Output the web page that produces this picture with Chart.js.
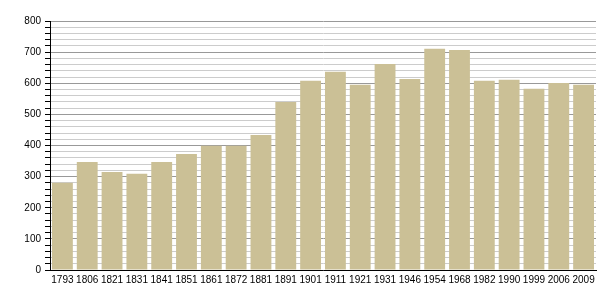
<!DOCTYPE html>
<html lang="fr">
<head>
  <meta charset="UTF-8">
  <title>Population</title>
  <script src="https://cdn.jsdelivr.net/npm/chart.js"></script>
  <style>
    html, body { margin: 0; padding: 0; background: #fff; }
  </style>
</head>
<body>
  <div style="width: 605px; height: 300px;">
    <canvas id="popChart"></canvas>
  </div>

  <script>
    const annees = ['1793', '1806', '1821', '1831', '1841', '1851', '1861', '1872', '1881', '1891', '1901',
      '1911', '1921', '1931', '1946', '1954', '1968', '1982', '1990', '1999', '2006', '2009'];
    const habitants = [280, 347, 315, 309, 347, 373, 399, 399, 434, 540, 608,
      637, 595, 662, 614, 711, 707, 608, 611, 582, 601, 595];

    const config = {
      type: 'bar',
      data: {
        labels: annees,
        datasets: [{
          data: habitants,
          backgroundColor: 'rgb(203, 192, 150)',
          borderWidth: 0,
          categoryPercentage: 1,
          barPercentage: 0.84
        }]
      },
      options: {
        responsive: true,
        maintainAspectRatio: false,
        animation: false,
        layout: { padding: { top: 21, right: 9, left: 0, bottom: 0 } },
        plugins: {
          legend: { display: false },
          tooltip: { enabled: false }
        },
        scales: {
          x: {
            grid: { display: false, drawTicks: false },
            border: { color: '#000', width: 1 },
            ticks: {
              color: '#000',
              font: { family: 'Liberation Sans', size: 10 },
              maxRotation: 0,
              autoSkip: false,
              padding: 4
            },
            afterFit: s => { s.height = 30; }
          },
          y: {
            min: 0,
            max: 800,
            border: { color: '#000', width: 1 },
            grid: {
              color: ctx => (ctx.tick && ctx.tick.value % 100 === 0) ? '#999' : '#ccc',
              tickColor: '#000',
              tickLength: 5,
              lineWidth: 1
            },
            ticks: {
              stepSize: 20,
              maxTicksLimit: 100,
              autoSkip: false,
              color: '#000',
              font: { family: 'Liberation Sans', size: 10 },
              padding: 4,
              callback: v => (v % 100 === 0 ? v : '')
            },
            afterFit: s => { s.width = 50; }
          }
        }
      }
    };

    new Chart(document.getElementById('popChart'), config);
  </script>
</body>
</html>
